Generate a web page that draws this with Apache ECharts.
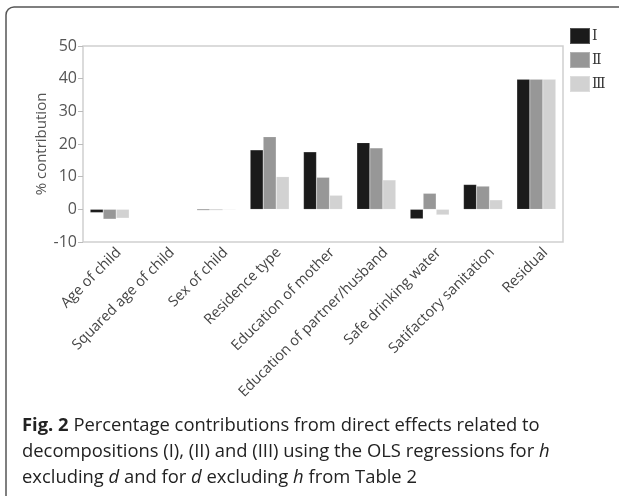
<!DOCTYPE html>
<html>
<head>
<meta charset="utf-8">
<script src="https://cdn.jsdelivr.net/npm/echarts@6/dist/echarts.min.js"></script>
<style>
html,body{margin:0;padding:0;background:#fff;}
#c{width:619px;height:496px;}
</style>
</head>
<body>
<div id="c"></div>
<script>
const categories = ["Age of child","Squared age of child","Sex of child","Residence type","Education of mother","Education of partner/husband","Safe drinking water","Satifactory sanitation","Residual"];
const seriesNames = ["Ⅰ","Ⅱ","Ⅲ"];
const valuesI   = [-1.0, 0, -0.3, 18.2, 17.6, 20.4, -2.9, 7.6, 39.8];
const valuesII  = [-3.0, 0, -0.3, 22.2, 9.8, 18.8, 4.9, 7.1, 39.8];
const valuesIII = [-2.7, 0, -0.2, 10.0, 4.3, 9.0, -1.7, 2.9, 39.8];
const yTicks = {min:-10, max:50, interval:10};
const colors = ["#1a1a1a","#979797","#d2d2d2"];
const captionLines = [
  "{b|Fig. 2} Percentage contributions from direct effects related to",
  "decompositions (I), (II) and (III) using the OLS regressions for {i|h}",
  "excluding {i|d} and for {i|d} excluding {i|h} from Table 2"
];

const chart = echarts.init(document.getElementById('c'), null, {renderer:'canvas'});
const font = "'Open Sans', 'Noto Sans', sans-serif";
const mk = (name, data, i) => ({
  name, type:'bar', data, barWidth:13, barGap:'0%',
  itemStyle:{color:colors[i], borderColor:'rgba(255,255,255,0.25)', borderWidth:0.5},
  emphasis:{disabled:true}
});
const capFont = "'Open Sans', sans-serif";
const capSize = 18.4;
chart.setOption({
  animation:false,
  backgroundColor:'#fff',
  grid:{left:83, right:56, top:46, height:196, show:true, borderColor:'#cfcfcf', borderWidth:1.5, containLabel:false},
  legend:{
    orient:'vertical', left:569, top:27, padding:0, itemWidth:20, itemHeight:16, itemGap:6,
    icon:'rect', data:seriesNames,
    textStyle:{fontFamily:"'DejaVu Serif', serif", fontSize:14, color:'#333', padding:[0,0,0,-3]}
  },
  xAxis:{
    type:'category', data:categories,
    axisLine:{show:false}, axisTick:{show:false},
    axisLabel:{rotate:45, interval:0, fontFamily:font, fontSize:14.5, color:'#444', margin:-1, verticalAlign:'top', lineHeight:26}
  },
  yAxis:{
    type:'value', min:yTicks.min, max:yTicks.max, interval:yTicks.interval,
    splitLine:{show:false},
    axisLine:{show:false},
    axisTick:{show:true, length:5, lineStyle:{color:'#bbb'}},
    axisLabel:{fontFamily:font, fontSize:16, color:'#555', margin:6},
    name:'% contribution', nameLocation:'middle', nameRotate:90, nameGap:34, nameMoveOverlap:false,
    nameTextStyle:{fontFamily:font, fontSize:15, color:'#555'}
  },
  series:[mk(seriesNames[0], valuesI, 0), mk(seriesNames[1], valuesII, 1), mk(seriesNames[2], valuesIII, 2)],
  graphic:[
    {type:'rect', shape:{x:6, y:7, width:700, height:600, r:8}, style:{fill:null, stroke:'#555', lineWidth:1.5}, silent:true, z:-1},
    ...captionLines.map((l, k) => ({
      type:'text', left:22, top:417 + k*26,
      style:{
        text:l, fontFamily:capFont, fontSize:capSize, fill:'#222',
        rich:{
          b:{fontWeight:'bold', fontFamily:capFont, fontSize:capSize, fill:'#222'},
          i:{fontStyle:'italic', fontFamily:capFont, fontSize:capSize, fill:'#222'}
        }
      }
    }))
  ]
});
</script>
</body>
</html>
